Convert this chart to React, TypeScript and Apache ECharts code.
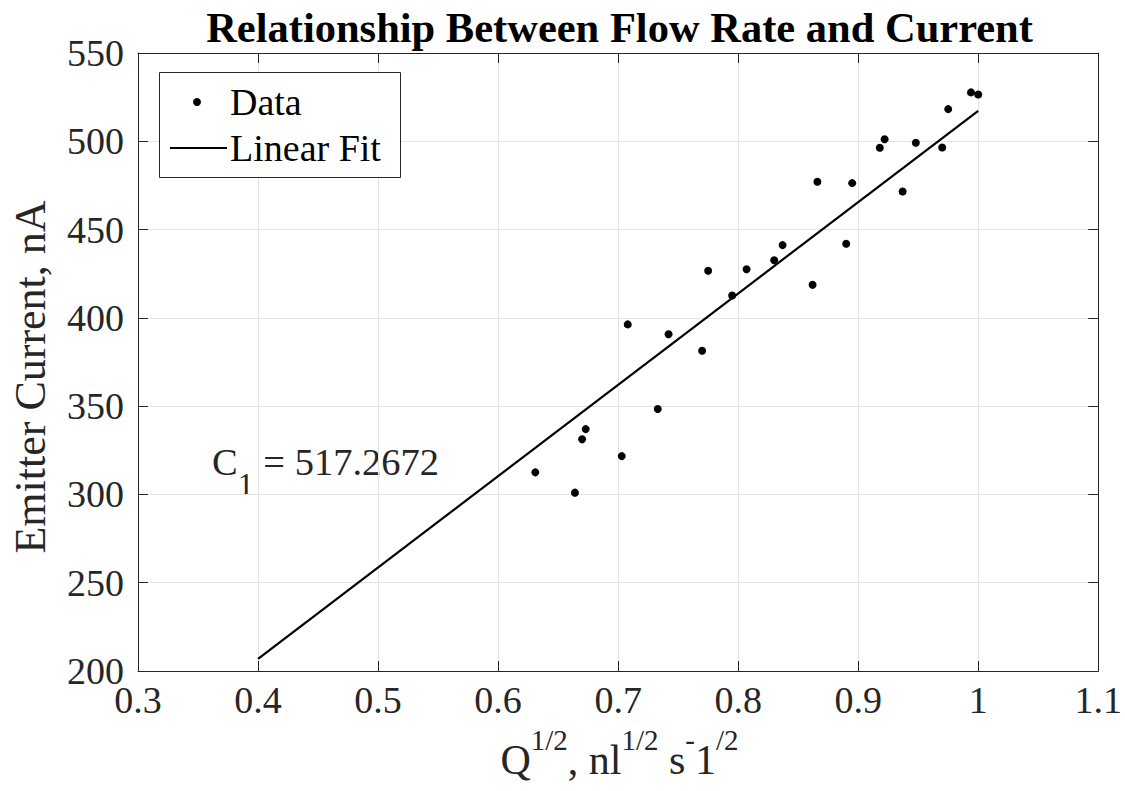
import React, { useEffect, useRef } from "react";
import * as echarts from "echarts";

const FONT = "'Liberation Serif', 'Times New Roman', serif";

const xData = [0.631, 0.664, 0.670, 0.673, 0.703, 0.708, 0.733, 0.742, 0.770, 0.775, 0.795, 0.807, 0.830, 0.837, 0.862, 0.866, 0.890, 0.895, 0.918, 0.922, 0.937, 0.948, 0.970, 0.975, 0.994, 1.000];
const yData = [312.5, 301, 331.2, 337, 321.7, 396.3, 348.4, 390.7, 381.4, 426.7, 412.7, 427.5, 432.6, 441.2, 418.7, 477.1, 442, 476.3, 496.3, 501.2, 471.6, 499.2, 496.5, 518.2, 527.7, 526.5];
const fitX = [0.4, 1.0];
const fitY = [206.9, 517.27];
const C1 = "517.2672";

const title = "Relationship Between Flow Rate and Current";
const yLabel = "Emitter Current, nA";
const legendLabels = ["Data", "Linear Fit"];

const AX = "#262626";
const GRID = "#e3e3e3";

export default function App() {
  const ref = useRef<HTMLDivElement>(null);
  useEffect(() => {
    if (!ref.current) return;
    const chart = echarts.init(ref.current, null, { renderer: "svg" });
    const gridL = 138, gridR = 24, gridT = 53, gridB = 120;
    const plotCx = gridL + (1125 - gridL - gridR) / 2;
    const axisCommon = {
      axisLine: { show: true, lineStyle: { color: AX, width: 1 } },
      axisTick: { show: true, inside: true, length: 10, lineStyle: { color: AX, width: 1 } },
    };
    chart.setOption({
      animation: false,
      backgroundColor: "#ffffff",
      grid: { left: gridL, right: gridR, top: gridT, bottom: gridB, containLabel: false },
      xAxis: [
        {
          type: "value", min: 0.3, max: 1.1, interval: 0.1, position: "bottom",
          ...axisCommon,
          axisLabel: { color: AX, fontFamily: FONT, fontSize: 38, margin: 10, formatter: (v: number) => String(parseFloat(v.toFixed(1))) },
          splitLine: { show: true, lineStyle: { color: GRID, width: 1 } },
        },
        {
          type: "value", min: 0.3, max: 1.1, interval: 0.1, position: "top",
          ...axisCommon,
          axisLabel: { show: false },
          splitLine: { show: false },
        },
      ],
      yAxis: [
        {
          type: "value", min: 200, max: 550, interval: 50, position: "left",
          ...axisCommon,
          axisLabel: { color: AX, fontFamily: FONT, fontSize: 38, margin: 14 },
          splitLine: { show: true, lineStyle: { color: GRID, width: 1 } },
        },
        {
          type: "value", min: 200, max: 550, interval: 50, position: "right",
          ...axisCommon,
          axisLabel: { show: false },
          splitLine: { show: false },
        },
      ],
      series: [
        {
          name: "Linear Fit",
          type: "line",
          data: fitX.map((x, i) => [x, fitY[i]]),
          showSymbol: false,
          symbol: "none",
          lineStyle: { color: "#000", width: 2.2 },
          z: 3,
        },
        {
          name: "Data",
          type: "scatter",
          data: xData.map((x, i) => [x, yData[i]]),
          symbol: "circle",
          symbolSize: 8,
          itemStyle: { color: "#000", opacity: 1 },
          z: 4,
        },
      ],
      graphic: [
        {
          type: "text", x: plotCx, y: 27,
          style: { text: title, font: `bold 42.5px ${FONT}`, fill: "#000", align: "center", verticalAlign: "middle" },
        },
        {
          type: "text", x: 30, y: 377, rotation: Math.PI / 2,
          style: { text: yLabel, font: `44px ${FONT}`, fill: AX, align: "center", verticalAlign: "middle" },
        },
        {
          type: "text", x: plotCx, y: 753,
          style: {
            text: "{m|Q}{s|1/2}{m|, nl}{s|1/2}{m| s}{s|-}{m|1}{s|/2}",
            align: "center", verticalAlign: "middle", fill: AX,
            rich: {
              m: { fontFamily: FONT, fontSize: 42, fill: AX, verticalAlign: "bottom", lineHeight: 56 },
              s: { fontFamily: FONT, fontSize: 29, fill: AX, verticalAlign: "top", lineHeight: 56 },
            },
          },
        },
        {
          type: "text", x: 212, y: 471,
          style: {
            text: "{m|C}{b|1}{m| = " + C1 + "}",
            align: "left", verticalAlign: "middle", fill: AX,
            rich: {
              m: { fontFamily: FONT, fontSize: 38.5, fill: AX, verticalAlign: "top", lineHeight: 58 },
              b: { fontFamily: FONT, fontSize: 32, fill: AX, verticalAlign: "bottom", lineHeight: 58 },
            },
          },
        },
        {
          type: "rect", shape: { x: 159.5, y: 72.5, width: 241, height: 105 },
          style: { fill: "#fff", stroke: AX, lineWidth: 1 }, z: 10,
        },
        { type: "circle", shape: { cx: 197, cy: 102, r: 4 }, style: { fill: "#000" }, z: 11 },
        {
          type: "line", shape: { x1: 170, y1: 148, x2: 227, y2: 148 },
          style: { stroke: "#000", lineWidth: 2 }, z: 11,
        },
        {
          type: "text", x: 230, y: 102, z: 11,
          style: { text: legendLabels[0], font: `38px ${FONT}`, fill: "#000", align: "left", verticalAlign: "middle" },
        },
        {
          type: "text", x: 230, y: 148, z: 11,
          style: { text: legendLabels[1], font: `38px ${FONT}`, fill: "#000", align: "left", verticalAlign: "middle" },
        },
      ],
    });
    return () => chart.dispose();
  }, []);
  return <div ref={ref} style={{ position: "fixed", left: 0, top: 0, width: 1125, height: 791 }} />;
}
